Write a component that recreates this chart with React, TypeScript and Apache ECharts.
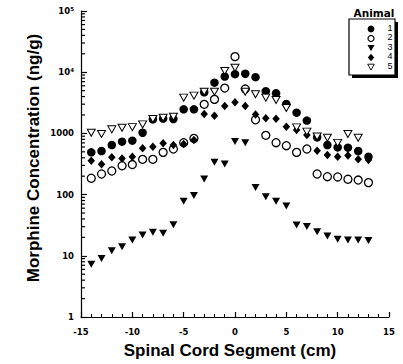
import React, { useEffect, useRef } from "react";
import * as echarts from "echarts";

// Spinal cord segment (cm)
const X = [-14, -13, -12, -11, -10, -9, -8, -7, -6, -5, -4, -3, -2, -1, 0, 1, 2, 3, 4, 5, 6, 7, 8, 9, 10, 11, 12, 13];
// Morphine concentration (ng/g) per animal
const ANIMAL1 = [490, 515, 646, 733, 760, 1025, 1700, 1740, 1720, 2470, 2470, 4700, 6750, 8500, 9300, 9450, 8300, 4900, 4520, 3030, 2180, 1620, 860, 646, 590, 585, 515, 415];
const ANIMAL2 = [185, 217, 243, 296, 310, 377, 377, 490, 556, 705, 830, 2985, 3600, 5500, 17950, 5310, 1670, 930, 705, 630, 490, 556, 217, 196, 194, 178, 173, 157];
const ANIMAL3 = [7.3, 9.0, 12.1, 14.1, 18.1, 21.9, 24.2, 23.3, 32.3, 77.5, 97, 180, 337, 316, 740, 705, 131, 92, 77.5, 65, 32, 30, 24.8, 21, 18.6, 18.1, 18.1, 17.7];
const ANIMAL4 = [358, 312, 406, 390, 415, 570, 605, 688, 646, 670, 780, 2075, 1950, 2800, 3220, 2800, 2045, 1760, 1740, 1290, 1135, 942, 523, 444, 415, 437, 377, 367];
const ANIMAL5 = [1025, 980, 1165, 1240, 1265, 1405, 1720, 1800, 1870, 3840, 4140, 4790, 4790, 10470, 11860, 4790, 4350, 3840, 3515, 2600, 1255, 1070, 890, 850, 700, 980, 850];

const SERIES_NAMES = ["1", "2", "3", "4", "5"];
const X_TICKS = [-15, -10, -5, 0, 5, 10, 15];
const Y_DECADES = [1, 10, 100, 1000, 10000, 100000];
const Y_MINOR = [
  2, 3, 4, 5, 6, 7, 8, 9,
  20, 30, 40, 50, 60, 70, 80, 90,
  200, 300, 400, 500, 600, 700, 800, 900,
  2000, 3000, 4000, 5000, 6000, 7000, 8000, 9000,
  20000, 30000, 40000, 50000, 60000, 70000, 80000, 90000,
];

const TICK_FONT = "'DejaVu Sans', sans-serif";
const TITLE_FONT = "'Liberation Sans', Arial, sans-serif";
const NARROW_FONT = "'Liberation Sans Narrow', 'Liberation Sans', Arial, sans-serif";

const pairs = (vals: number[]) => vals.map((v, i) => [X[i], v]);

// legend marker drawing (legend only, not data)
function legendMarker(kind: number, cx: number, cy: number): any {
  const z = 3;
  if (kind === 0) return { type: "circle", z, shape: { cx, cy, r: 3.4 }, style: { fill: "#000" } };
  if (kind === 1) return { type: "circle", z, shape: { cx, cy, r: 3 }, style: { fill: "#fff", stroke: "#000", lineWidth: 1.2 } };
  if (kind === 2)
    return { type: "polygon", z, shape: { points: [[cx - 3.5, cy - 3], [cx + 3.5, cy - 3], [cx, cy + 3.2]] }, style: { fill: "#000" } };
  if (kind === 3)
    return { type: "polygon", z, shape: { points: [[cx, cy - 3.8], [cx + 3.2, cy], [cx, cy + 3.8], [cx - 3.2, cy]] }, style: { fill: "#000" } };
  return { type: "polygon", z, shape: { points: [[cx - 3.3, cy - 2.8], [cx + 3.3, cy - 2.8], [cx, cy + 3]] }, style: { fill: "#fff", stroke: "#000", lineWidth: 0.9 } };
}

export default function App() {
  const ref = useRef<HTMLDivElement>(null);
  useEffect(() => {
    if (!ref.current) return;
    const chart = echarts.init(ref.current, null, { renderer: "svg" });
    const fmtY = (v: number) => {
      if (v === 100000) return "{n|10}{s|5}";
      if (v === 10000) return "{n|10}{s|4}";
      return "{n|" + v + "}";
    };
    const legendItems: any[] = [];
    SERIES_NAMES.forEach((name, i) => {
      legendItems.push(legendMarker(i, 371, 29 + 9.5 * i));
      legendItems.push({
        type: "text", z: 3, x: 390, y: 27.5 + 9.5 * i,
        style: { text: name, fill: "#000", font: "9px " + NARROW_FONT, align: "center", verticalAlign: "middle" },
      });
    });
    const tickSeries = (name: string, values: number[], len: number) => ({
      name, type: "custom", silent: true, clip: false, z: 5,
      encode: { x: 0, y: 1 },
      data: values.map((v) => [X_TICKS[0], v]),
      renderItem: (params: any, api: any) => {
        const p = api.coord([api.value(0), api.value(1)]);
        return {
          type: "line",
          shape: { x1: p[0], y1: p[1], x2: p[0] + len, y2: p[1] },
          style: { stroke: "#000", lineWidth: 1.2 },
        };
      },
    });
    const solid = { opacity: 1 };
    chart.setOption({
      animation: false,
      backgroundColor: "#fff",
      grid: { left: 81, right: 14, top: 11, bottom: 47 },
      xAxis: {
        type: "value",
        min: X_TICKS[0],
        max: X_TICKS[X_TICKS.length - 1],
        interval: 5,
        axisLine: { show: true, onZero: false, lineStyle: { color: "#000", width: 1.2 } },
        axisTick: { show: true, inside: true, length: 5, lineStyle: { color: "#000", width: 1.2 } },
        minorTick: { show: true, splitNumber: 5, length: 3, lineStyle: { color: "#000", width: 1.1 } },
        splitLine: { show: false },
        axisLabel: {
          margin: 10,
          color: "#000",
          fontFamily: TICK_FONT,
          fontWeight: "bold",
          fontSize: 8.5,
        },
      },
      yAxis: {
        type: "log",
        logBase: 10,
        min: Y_DECADES[0],
        max: Y_DECADES[Y_DECADES.length - 1],
        axisLine: { show: true, onZero: false, lineStyle: { color: "#000", width: 1.2 } },
        axisTick: { show: true, inside: true, length: 6, lineStyle: { color: "#000", width: 1.2 } },
        splitLine: { show: false },
        axisLabel: {
          margin: 7,
          formatter: fmtY,
          rich: {
            n: { fontFamily: TICK_FONT, fontWeight: "bold", fontSize: 8.5, color: "#000", lineHeight: 11 },
            s: { fontFamily: TICK_FONT, fontWeight: "bold", fontSize: 5.5, color: "#000", lineHeight: 6, verticalAlign: "top" },
          },
        },
      },
      graphic: [
        { type: "rect", z: 1, shape: { x: 352, y: 22, width: 46, height: 56 }, style: { fill: "#000" } },
        { type: "rect", z: 2, shape: { x: 349, y: 19, width: 46, height: 56 }, style: { fill: "#fff", stroke: "#000", lineWidth: 1.2 } },
        {
          type: "text", z: 3, x: 374, y: 13,
          style: { text: "Animal", fill: "#000", font: "bold 10.5px " + TICK_FONT, align: "center", verticalAlign: "middle" },
        },
        ...legendItems,
        {
          type: "text", z: 3, x: 230, y: 350,
          style: { text: "Spinal Cord Segment (cm)", fill: "#000", font: "bold 17px " + TITLE_FONT, align: "center", verticalAlign: "middle" },
        },
        {
          type: "text", z: 3, x: 33, y: 158, rotation: Math.PI / 2,
          style: { text: "Morphine Concentration (ng/g)", fill: "#000", font: "bold 17px " + TITLE_FONT, align: "center", verticalAlign: "middle" },
        },
      ],
      series: [
        {
          name: "1", type: "scatter", data: pairs(ANIMAL1), symbol: "circle", symbolSize: 8.5,
          itemStyle: { color: "#000", borderColor: "#000", borderWidth: 0, ...solid },
        },
        {
          name: "2", type: "scatter", data: pairs(ANIMAL2), symbol: "circle", symbolSize: 8,
          itemStyle: { color: "#fff", borderColor: "#000", borderWidth: 1.3, ...solid },
        },
        {
          name: "3", type: "scatter", data: pairs(ANIMAL3), symbol: "triangle", symbolRotate: 180, symbolSize: [8, 7],
          itemStyle: { color: "#000", borderColor: "#000", borderWidth: 0, ...solid },
        },
        {
          name: "4", type: "scatter", data: pairs(ANIMAL4), symbol: "diamond", symbolSize: [7.5, 8.5],
          itemStyle: { color: "#000", borderColor: "#000", borderWidth: 0, ...solid },
        },
        {
          name: "5", type: "scatter", data: pairs(ANIMAL5), symbol: "triangle", symbolRotate: 180, symbolSize: [8, 7],
          itemStyle: { color: "#fff", borderColor: "#000", borderWidth: 1, ...solid },
        },
        tickSeries("minorY", Y_MINOR, 4),
      ],
    });
    return () => chart.dispose();
  }, []);
  return (
    <div
      ref={ref}
      style={{ position: "absolute", left: 0, top: 0, width: 403, height: 364 }}
    />
  );
}
